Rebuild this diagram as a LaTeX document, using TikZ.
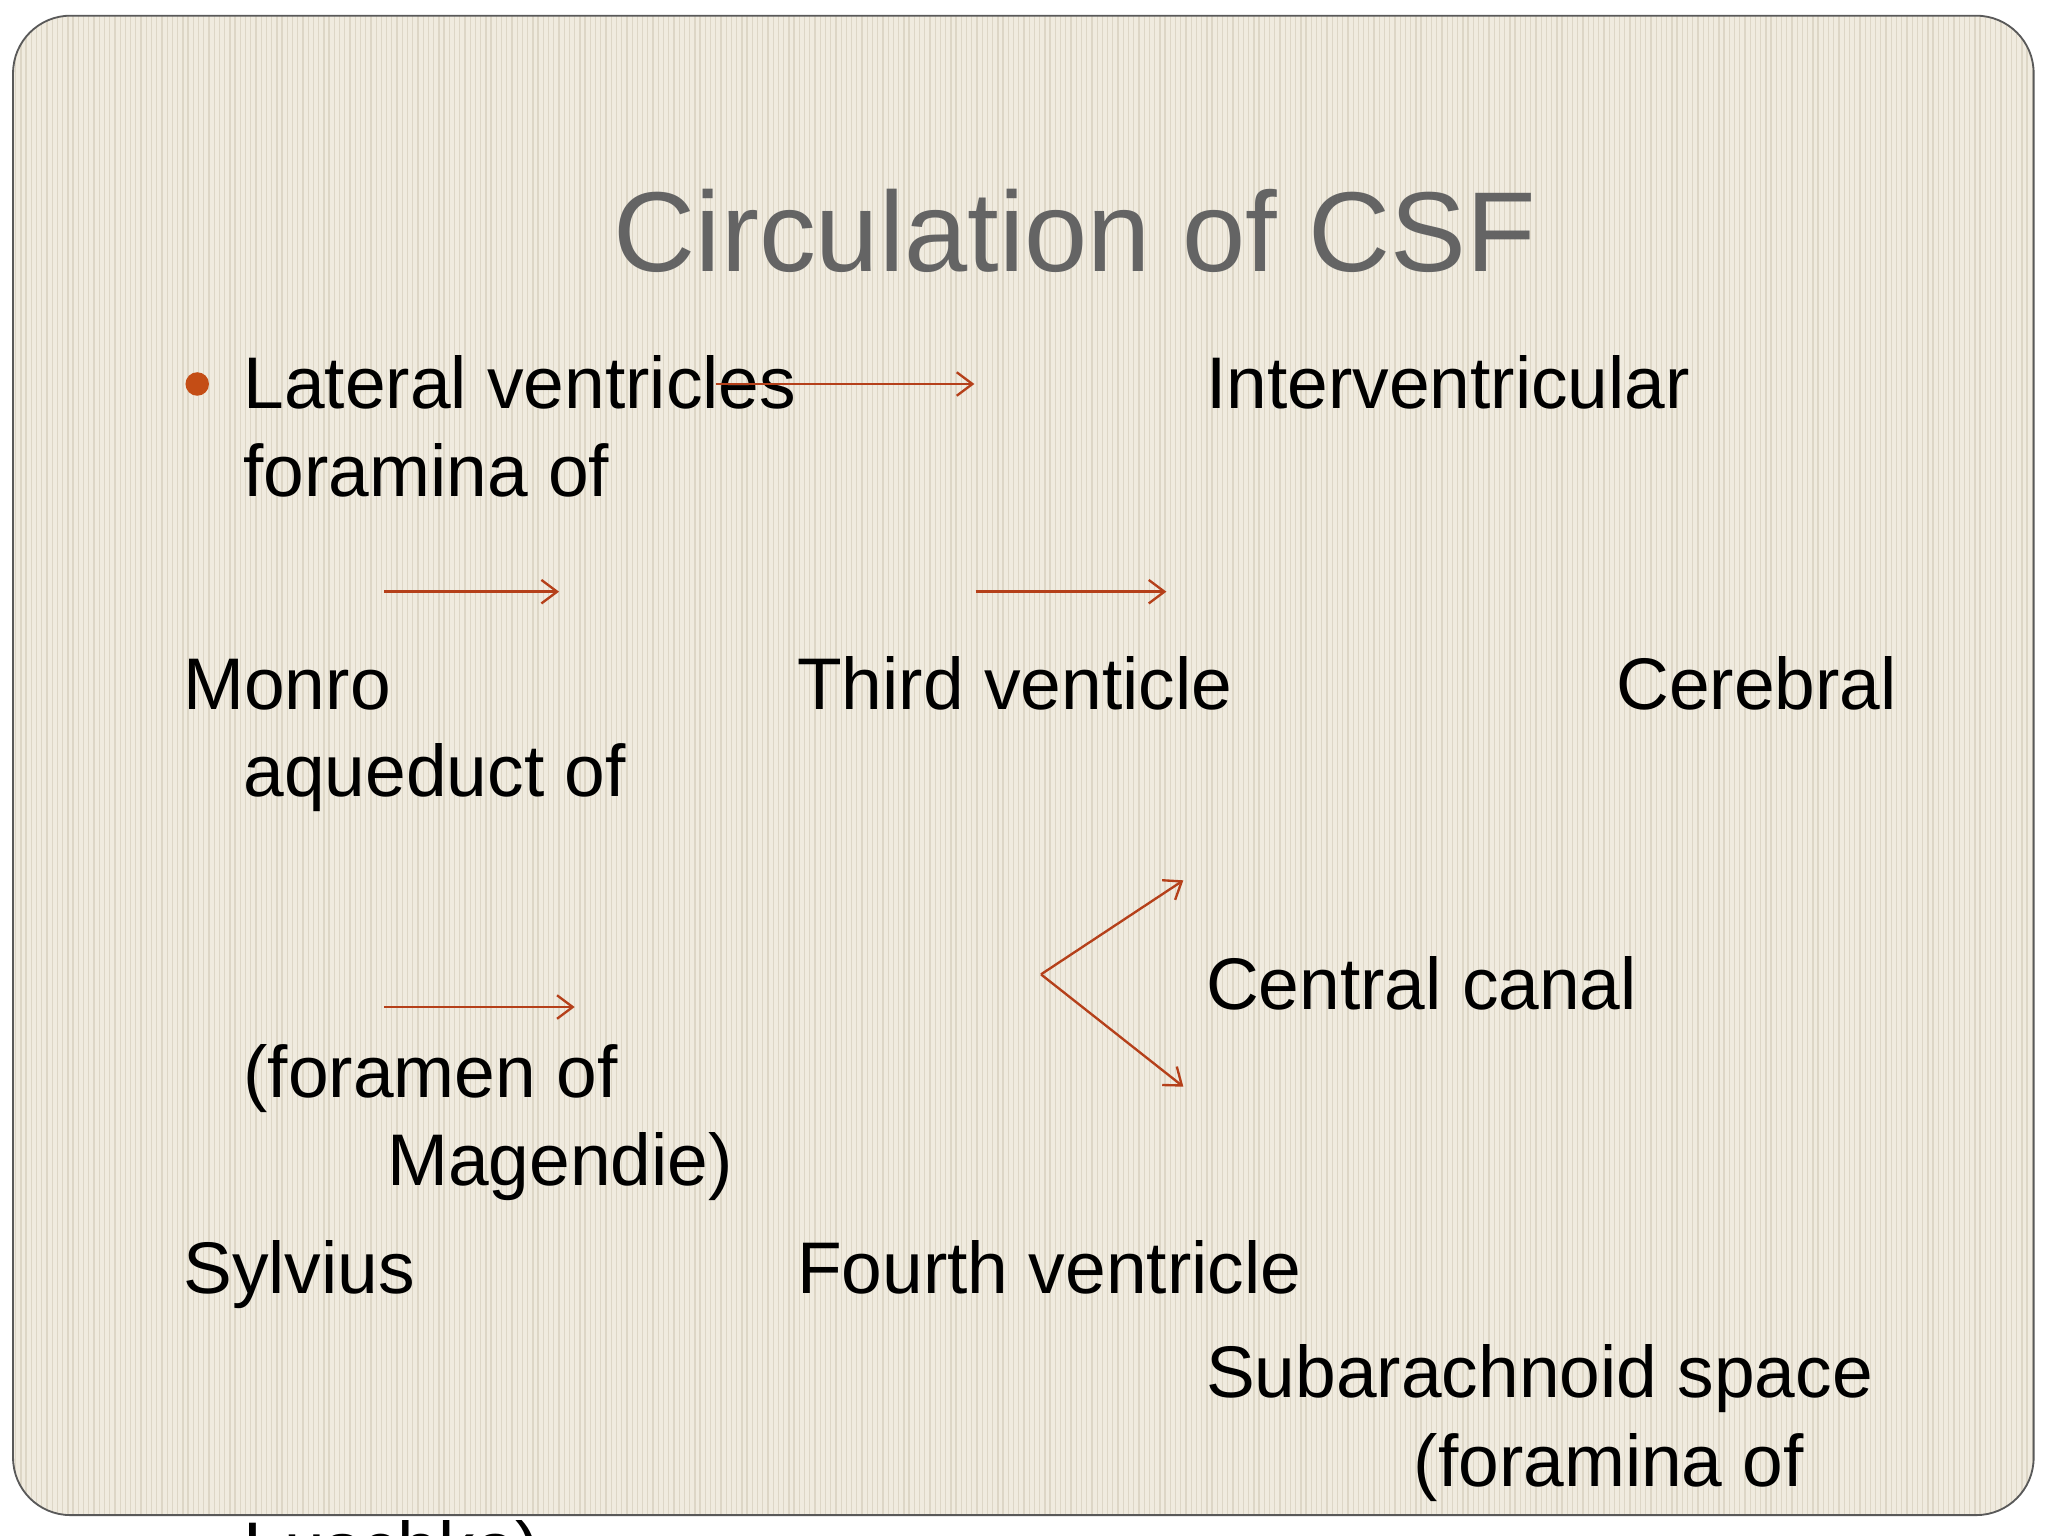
\documentclass[tikz,border=0pt]{standalone}
\usepackage{fontspec}
\setmainfont{Liberation Sans}
\usetikzlibrary{arrows.meta}
\definecolor{bg}{HTML}{F0EBDF}
\definecolor{stripe}{HTML}{DDD6C6}
\definecolor{arr}{HTML}{B5401A}
\definecolor{titlec}{HTML}{646464}
\tikzset{
  lbl/.style={anchor=base west, inner sep=0pt, font=\fontsize{28}{32}\selectfont, text=black},
  flow/.style={draw=arr, line width=0.9pt, -{Straight Barb[length=6pt,width=9pt]}}
}
\begin{document}
\begin{tikzpicture}[x=0.5pt,y=-0.5pt]
\useasboundingbox (0,0) rectangle (1568,1176);
\clip (0,0) rectangle (1568,1176);
\fill[white] (0,0) rectangle (1568,1176);
\begin{scope}
\clip[rounded corners=22pt] (10,12) rectangle (1557,1160);
\fill[bg] (10,12) rectangle (1557,1160);
\foreach \x in {12,16,...,1556} \draw[stripe, line width=0.5pt] (\x,12) -- (\x,1160);
\end{scope}
\draw[gray!70!black, line width=0.7pt, rounded corners=22pt] (10,12) rectangle (1557,1160);
\node[anchor=base, inner sep=0pt, font=\fontsize{43.5}{48}\selectfont, text=titlec] (title) at (823,208) {Circulation of CSF};
\fill[arr!80!orange] (151,294) circle (9);
\node[lbl] (lat) at (186,313) {Lateral ventricles};
\node[lbl] (inter) at (923,313) {Interventricular};
\node[lbl] (for1) at (186,380) {foramina of};
\node[lbl] (monro) at (140,543) {Monro};
\node[lbl] (third) at (610,543) {Third venticle};
\node[lbl] (cereb) at (1237,543) {Cerebral};
\node[lbl] (aq) at (186,610) {aqueduct of};
\node[lbl] (cc) at (923,773) {Central canal};
\node[lbl] (for2) at (186,840) {(foramen of};
\node[lbl] (mag) at (296,908) {Magendie)};
\node[lbl] (syl) at (140,990) {Sylvius};
\node[lbl] (fourth) at (610,990) {Fourth ventricle};
\node[lbl] (sub) at (923,1070) {Subarachnoid space};
\node[lbl] (for3) at (1082,1138) {(foramina of};
\node[lbl] (lus) at (186,1205) {Luschka)};
\coordinate (a1s) at (548,294); \coordinate (a1e) at (746,294);
\coordinate (a2s) at (294,453); \coordinate (a2e) at (428,453);
\coordinate (a3s) at (747,453); \coordinate (a3e) at (893,453);
\coordinate (a4s) at (294,771); \coordinate (a4e) at (440,771);
\coordinate (v) at (797,746); \coordinate (vu) at (906,674); \coordinate (vd) at (906,832);
\draw[flow] (a1s) -- (a1e);
\draw[flow] (a2s) -- (a2e);
\draw[flow] (a3s) -- (a3e);
\draw[flow] (a4s) -- (a4e);
\draw[flow] (v) -- (vu);
\draw[flow] (v) -- (vd);
\end{tikzpicture}
\end{document}
